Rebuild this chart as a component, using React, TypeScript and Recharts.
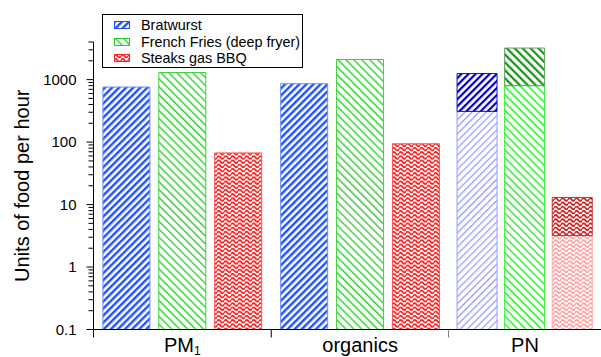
import React from "react";
import { BarChart, Bar, XAxis, YAxis, Legend, Label } from "recharts";

const FONT = '"Liberation Sans", Arial, Helvetica, sans-serif';

// emission factors per category; for PN the arrays hold the lower (light) part
const categories = ["PM1", "organics", "PN"];
const bratwurst = [760, 860, 310];
const frenchFries = [1300, 2100, 800];
const steaks = [67, 94, 3.2];
// PN upper bounds (full column height)
const pnTotal = [1250, 3200, 13];

const majorTicks = [0.1, 1, 10, 100, 1000];
const minorSteps = [2, 3, 4, 5, 6, 7, 8, 9];
const yMin = 0.1;
const yMax = 4000;

const yTicks = majorTicks
  .flatMap((d) => [d, ...minorSteps.map((m) => Number((d * m).toPrecision(3)))])
  .filter((v) => v <= yMax);

const mainData = categories.slice(0, 2).map((cat, i) => ({
  cat,
  bratwurst: bratwurst[i],
  fries: frenchFries[i],
  steaks: steaks[i],
}));

const pnData = [
  {
    cat: categories[2],
    bratLo: bratwurst[2],
    bratHi: pnTotal[0] - bratwurst[2],
    friesLo: frenchFries[2],
    friesHi: pnTotal[1] - frenchFries[2],
    steaksLo: steaks[2],
    steaksHi: pnTotal[2] - steaks[2],
  },
];

const legendItems = [
  { name: "Bratwurst", fill: "url(#p-brat)", stroke: "#1f4fff" },
  { name: "French Fries (deep fryer)", fill: "url(#p-fries)", stroke: "#22cc22" },
  { name: "Steaks gas BBQ", fill: "url(#p-steak)", stroke: "#ff2020" },
];

const Stripes = ({ id, color, size, line, angle }: any) => (
  <pattern
    id={id}
    patternUnits="userSpaceOnUse"
    width={size}
    height={size}
    patternTransform={`rotate(${angle})`}
  >
    <rect width={size} height={size} fill="#fff" />
    <rect width={line} height={size} fill={color} />
  </pattern>
);

const Waves = ({ id, color }: any) => (
  <pattern id={id} patternUnits="userSpaceOnUse" width={7} height={4.2}>
    <rect width={7} height={4.2} fill="#fff" />
    <path
      d="M0 2.1 Q1.75 -0.5 3.5 2.1 T7 2.1"
      fill="none"
      stroke={color}
      strokeWidth={1.8}
    />
  </pattern>
);

const Patterns = () => (
  <svg width={0} height={0} style={{ position: "absolute" }}>
    <defs>
      <Stripes id="p-brat" color="#1f4fff" size={5} line={2.4} angle={45} />
      <Stripes id="p-brat-lo" color="#9494ff" size={5} line={1.2} angle={45} />
      <Stripes id="p-brat-hi" color="#0000c8" size={5} line={2.2} angle={45} />
      <Stripes id="p-fries" color="#2bcf2b" size={5.6} line={1.4} angle={-45} />
      <Stripes id="p-fries-lo" color="#1ef01e" size={5.6} line={1.4} angle={-45} />
      <Stripes id="p-fries-hi" color="#129612" size={5.6} line={2.2} angle={-45} />
      <Waves id="p-steak" color="#ff1a1a" />
      <Waves id="p-steak-lo" color="#ff9e9e" />
      <Waves id="p-steak-hi" color="#c81818" />
    </defs>
  </svg>
);

const YTick = ({ x, y, payload }: any) => {
  const major = majorTicks.includes(payload.value);
  return (
    <g>
      <line x1={x - (major ? 7 : 5)} x2={x} y1={y} y2={y} stroke="#000" />
      {major && (
        <text
          x={x - 17}
          y={y}
          dy={5.3}
          textAnchor="end"
          fontSize={15}
          fontFamily={FONT}
          fill="#000"
        >
          {payload.value}
        </text>
      )}
    </g>
  );
};

// category label plus short boundary ticks at the edges of each band
const CatTick = ({ x, y, payload, index, visibleTicksCount, separators }: any) => {
  const half = payload.offset ?? 0;
  const last = index === visibleTicksCount - 1;
  return (
    <g>
      {separators && (
        <line x1={x - half} x2={x - half} y1={y} y2={y + 8} stroke="#000" />
      )}
      {separators && last && (
        <line x1={x + half} x2={x + half} y1={y} y2={y + 8} stroke="#000" />
      )}
      <text
        x={x}
        y={y}
        dy={22.5}
        textAnchor="middle"
        fontSize={20}
        fontFamily={FONT}
        fill="#000"
      >
        {payload.value === "PM1" ? (
          <>
            <tspan>PM</tspan>
            <tspan fontSize={12} dy={2.5}>
              1
            </tspan>
          </>
        ) : (
          payload.value
        )}
      </text>
    </g>
  );
};

const LegendBox = () => (
  <div
    style={{
      position: "relative",
      width: 199,
      height: 52,
      border: "1px solid #000",
      background: "#fff",
      fontFamily: FONT,
      fontSize: 14.4,
      color: "#000",
    }}
  >
    {legendItems.map((it, i) => (
      <div
        key={it.name}
        style={{
          position: "absolute",
          left: 11,
          top: 2 + i * 16.7,
          height: 16,
          display: "flex",
          alignItems: "center",
          whiteSpace: "nowrap",
        }}
      >
        <svg width={16} height={8} style={{ marginRight: 11 }}>
          <rect x={0.5} y={0.5} width={15} height={7} fill={it.fill} stroke={it.stroke} />
        </svg>
        <span>{it.name}</span>
      </div>
    ))}
  </div>
);

const margin = { top: 42, right: 0, bottom: 0, left: 0 };

export default function App() {
  return (
    <div
      style={{
        position: "absolute",
        left: 0,
        top: 0,
        width: 601,
        height: 357,
        background: "#fff",
        fontFamily: FONT,
      }}
    >
      <Patterns />
      <div style={{ position: "absolute", left: 0, top: 0 }}>
        <BarChart
          width={449}
          height={357}
          data={mainData}
          margin={margin}
          barCategoryGap="5.3%"
          barGap="5%"
        >
          <XAxis
            dataKey="cat"
            tickLine={false}
            tickSize={0}
            tickMargin={0}
            height={27.5}
            interval={0}
            stroke="#000"
            tick={<CatTick separators />}
          />
          <YAxis
            type="number"
            scale="log"
            domain={[yMin, yMax]}
            allowDataOverflow
            ticks={yTicks}
            interval={0}
            tick={<YTick />}
            tickLine={false}
            tickSize={0}
            tickMargin={0}
            width={93.5}
            stroke="#000"
          >
            <Label
              content={({ viewBox }: any) => {
                const cy = viewBox.y + viewBox.height / 2;
                return (
                  <text
                    x={28.5}
                    y={cy}
                    transform={`rotate(-90 28.5 ${cy})`}
                    textAnchor="middle"
                    fontSize={20}
                    fontFamily={FONT}
                    fill="#000"
                  >
                    Units of food per hour
                  </text>
                );
              }}
            />
          </YAxis>
          <Legend
            layout="vertical"
            align="center"
            verticalAlign="middle"
            wrapperStyle={{ left: 102, top: 14, width: "auto" }}
            content={() => <LegendBox />}
          />
          <Bar
            dataKey="bratwurst"
            name="Bratwurst"
            fill="url(#p-brat)"
            stroke="#6a8cff"
            isAnimationActive={false}
          />
          <Bar
            dataKey="fries"
            name="French Fries (deep fryer)"
            fill="url(#p-fries)"
            stroke="#3ad33a"
            isAnimationActive={false}
          />
          <Bar
            dataKey="steaks"
            name="Steaks gas BBQ"
            fill="url(#p-steak)"
            stroke="#ff5050"
            isAnimationActive={false}
          />
        </BarChart>
      </div>
      <div style={{ position: "absolute", left: 449, top: 0 }}>
        <BarChart
          width={152}
          height={357}
          data={pnData}
          margin={margin}
          barCategoryGap="5.3%"
          barGap="5%"
        >
          <XAxis
            dataKey="cat"
            tickLine={false}
            tickSize={0}
            tickMargin={0}
            height={27.5}
            interval={0}
            stroke="#000"
            tick={<CatTick />}
          />
          <YAxis hide type="number" scale="log" domain={[yMin, yMax]} allowDataOverflow />
          <Bar stackId="b" dataKey="bratLo" fill="url(#p-brat-lo)" stroke="#9a9aff" isAnimationActive={false} />
          <Bar stackId="b" dataKey="bratHi" fill="url(#p-brat-hi)" stroke="#1010cc" isAnimationActive={false} />
          <Bar stackId="f" dataKey="friesLo" fill="url(#p-fries-lo)" stroke="#33ee33" isAnimationActive={false} />
          <Bar stackId="f" dataKey="friesHi" fill="url(#p-fries-hi)" stroke="#5aa05a" isAnimationActive={false} />
          <Bar stackId="s" dataKey="steaksLo" fill="url(#p-steak-lo)" stroke="#ffaaaa" isAnimationActive={false} />
          <Bar stackId="s" dataKey="steaksHi" fill="url(#p-steak-hi)" stroke="#c83232" isAnimationActive={false} />
        </BarChart>
      </div>
    </div>
  );
}
